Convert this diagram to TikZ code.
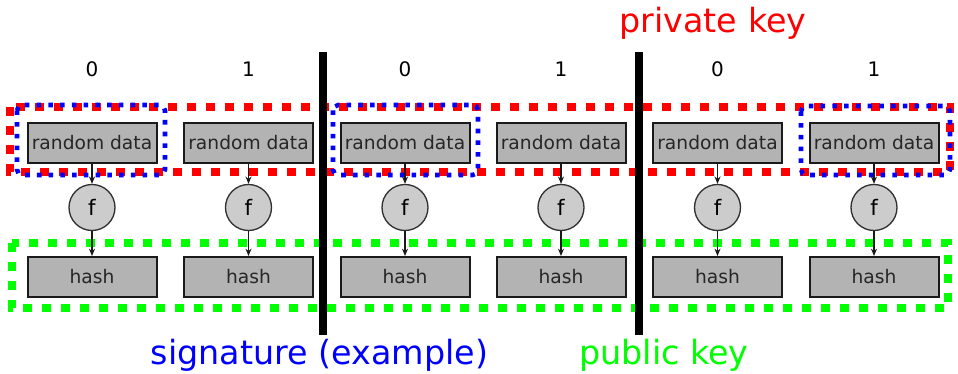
\documentclass[tikz,border=0pt]{standalone}
\usepackage{fontspec}
\setmainfont{DejaVu Sans}
\usetikzlibrary{arrows.meta}
\definecolor{boxfill}{HTML}{B3B3B3}
\definecolor{circfill}{HTML}{CCCCCC}
\definecolor{edgecol}{HTML}{1A1A1A}
\begin{document}
\begin{tikzpicture}[x=0.75pt,y=-0.75pt,
  databox/.style={draw=edgecol,fill=boxfill,line width=1.5pt,minimum width=96.75pt,minimum height=30pt,inner sep=0pt,font=\fontsize{14}{16}\selectfont,text=black!85},
  fnode/.style={draw=edgecol!90,fill=circfill,line width=1pt,circle,minimum size=34.5pt,inner sep=0pt,font=\fontsize{16}{18}\selectfont},
  conn/.style={draw=edgecol,line width=1pt,-{Stealth[length=5.5pt,width=4.5pt]}},
  redframe/.style={draw=red,line width=6pt,dash pattern=on 6.75pt off 7.5pt},
  blueframe/.style={draw=blue,line width=3.4pt,dash pattern=on 3.4pt off 5.4pt,rounded corners=4pt},
  greenframe/.style={draw=green,line width=6.5pt,dash pattern=on 6.75pt off 7.5pt},
  divider/.style={draw=black,line width=5.5pt},
  bitlabel/.style={anchor=base,font=\fontsize{15}{17}\selectfont},
  biglabel/.style={anchor=base,font=\fontsize{25}{28}\selectfont}
]
\useasboundingbox (0,0) rectangle (958,374);
% frames
\draw[redframe] (10,107) rectangle (950,172);
\draw[greenframe] (12,243) rectangle (948,308);
\draw[blueframe] (17,105) rectangle (165,175);
\draw[blueframe] (333,105) rectangle (478,175);
\draw[blueframe] (801,106) rectangle (950,175);
% columns
\foreach \i/\cx/\b in {1/92/0,2/248.5/1,3/405/0,4/561/1,5/717.5/0,6/874/1}{
  \node[bitlabel] (b\i) at (\cx,77) {\b};
  \node[databox] (r\i) at (\cx,143) {random data};
  \node[fnode] (f\i) at (\cx,207.5) {f};
  \node[databox] (h\i) at (\cx,277) {hash};
  \draw[conn] (r\i) -- (f\i);
  \draw[conn] (f\i) -- (h\i);
}
% dividers
\coordinate (d1t) at (323,52); \coordinate (d1b) at (323,335);
\coordinate (d2t) at (639,52); \coordinate (d2b) at (639,335);
\draw[divider] (d1t) -- (d1b);
\draw[divider] (d2t) -- (d2b);
% labels
\node[biglabel,text=red] (priv) at (713,33) {private key};
\node[biglabel,text=blue] (sig) at (319.5,364) {signature (example)};
\node[biglabel,text=green] (pub) at (664,364) {public key};
\end{tikzpicture}
\end{document}
